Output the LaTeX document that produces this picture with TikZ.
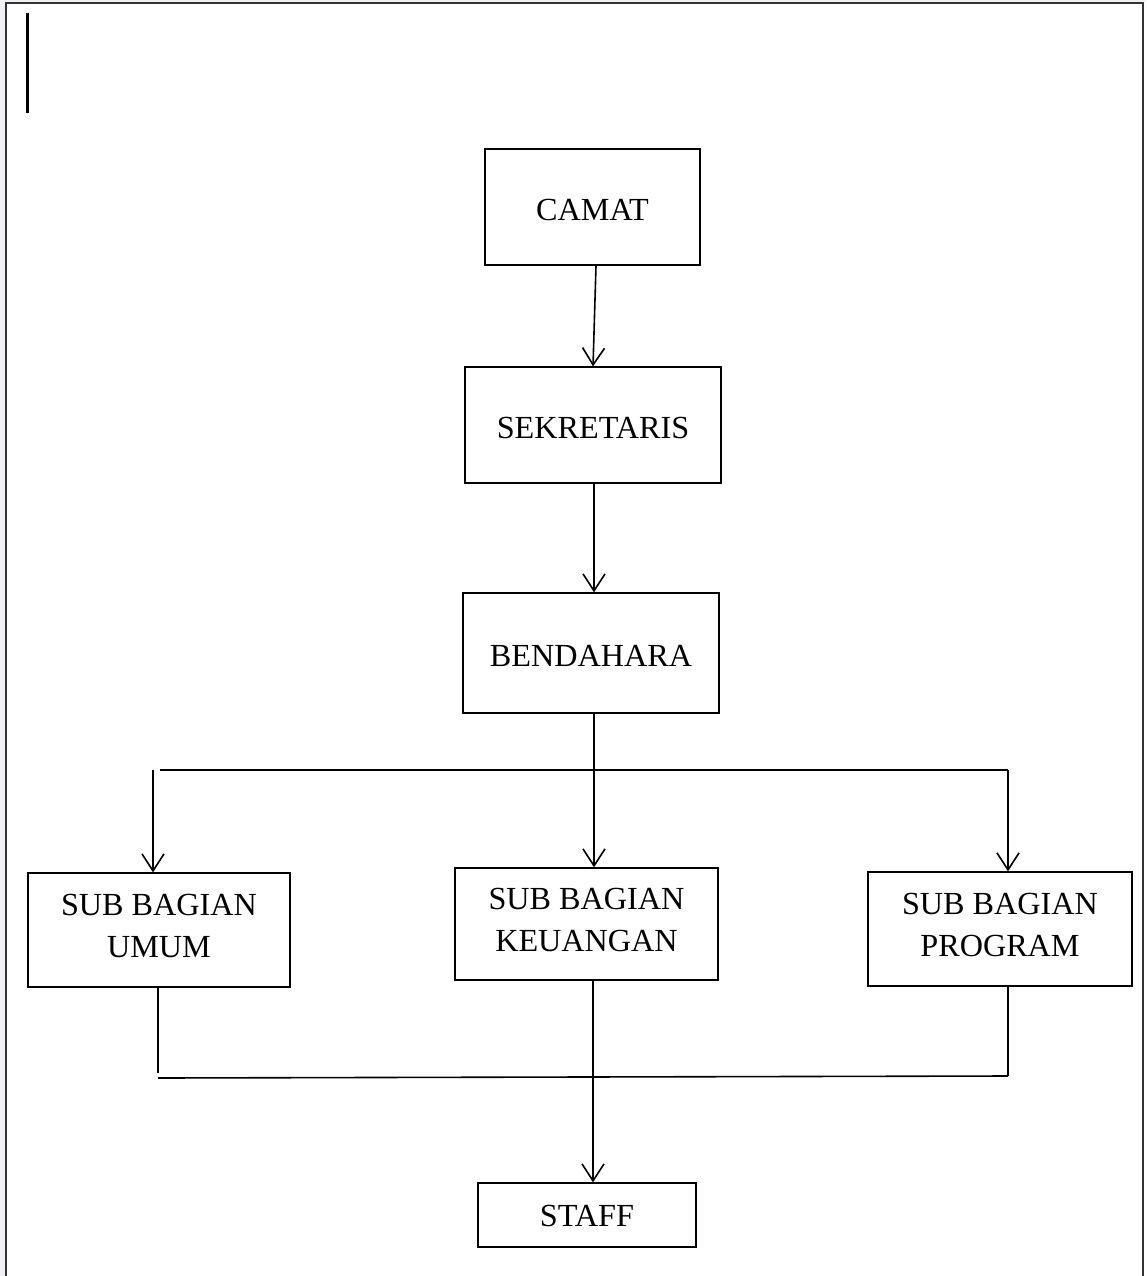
\documentclass[tikz,border=0pt]{standalone}
\usepackage{fontspec}
\setmainfont{Liberation Serif}
\usetikzlibrary{arrows.meta}
\definecolor{pagebg}{HTML}{EFEFF4}
\definecolor{framec}{HTML}{333333}
\newcommand{\mvtxt}[2]{\raisebox{#1}[\height][\depth]{#2}}
\begin{document}
\begin{tikzpicture}[x=1pt,y=-1pt,
  box/.style={draw=black, line width=1.3pt, align=center, inner sep=0pt,
    font=\fontsize{32.2}{42}\selectfont},
  conn/.style={line width=1.6pt},
  arr/.style={conn, -{Straight Barb[length=17pt,width=22pt,line width=1.6pt]}}]
\useasboundingbox (0,0) rectangle (1146,1276);
\fill[pagebg] (0,0) rectangle (5,1276);
\fill[pagebg] (0,0) rectangle (1146,2);
\draw[framec, line width=2pt] (6,1276) -- (6,3) -- (1143,3) -- (1143,1276);
\draw[line width=3pt] (27.5,13) -- (27.5,113);

\node[box, minimum width=215pt, minimum height=116pt] (camat) at (592.5,207) {\mvtxt{-3pt}{CAMAT}};
\node[box, minimum width=256pt, minimum height=116pt] (sek) at (593,425) {\mvtxt{-3pt}{SEKRETARIS}};
\node[box, minimum width=256pt, minimum height=120pt] (bend) at (591,653) {\mvtxt{-3pt}{BENDAHARA}};
\node[box, minimum width=262pt, minimum height=114pt] (umum) at (159,930) {\mvtxt{4pt}{SUB BAGIAN}\\\mvtxt{4pt}{UMUM}};
\node[box, minimum width=263pt, minimum height=112pt] (keu) at (586.5,924) {\mvtxt{4pt}{SUB BAGIAN}\\\mvtxt{4pt}{KEUANGAN}};
\node[box, minimum width=264pt, minimum height=114pt] (prog) at (1000,929) {\mvtxt{4pt}{SUB BAGIAN}\\\mvtxt{4pt}{PROGRAM}};
\node[box, minimum width=218pt, minimum height=64pt] (staff) at (587,1215) {\mvtxt{-1pt}{STAFF}};

\draw[arr] ([xshift=3.5pt]camat.south) -- (sek.north);
\coordinate (s1) at ([xshift=1pt]sek.south);
\draw[arr] (s1) -- (s1 |- bend.north);
\coordinate (b1) at ([xshift=3pt]bend.south);
\draw[arr] (b1) -- (b1 |- keu.north);

\coordinate (hl) at (160,770);
\coordinate (hr) at (1008,770);
\coordinate (lt) at (153,770);
\draw[conn] (hl) -- (hr);
\draw[arr] (lt) -- (lt |- umum.north);
\draw[arr] (hr) -- (hr |- prog.north);

\coordinate (ul) at (158,1073);
\coordinate (bl) at (158,1078);
\coordinate (br) at (1008,1076);
\draw[conn] (umum.south -| ul) -- (ul);
\draw[conn] (bl) -- (br);
\draw[conn] (prog.south -| br) -- (br);
\coordinate (k1) at (593,980);
\draw[arr] (keu.south -| k1) -- (k1 |- staff.north);
\end{tikzpicture}
\end{document}
